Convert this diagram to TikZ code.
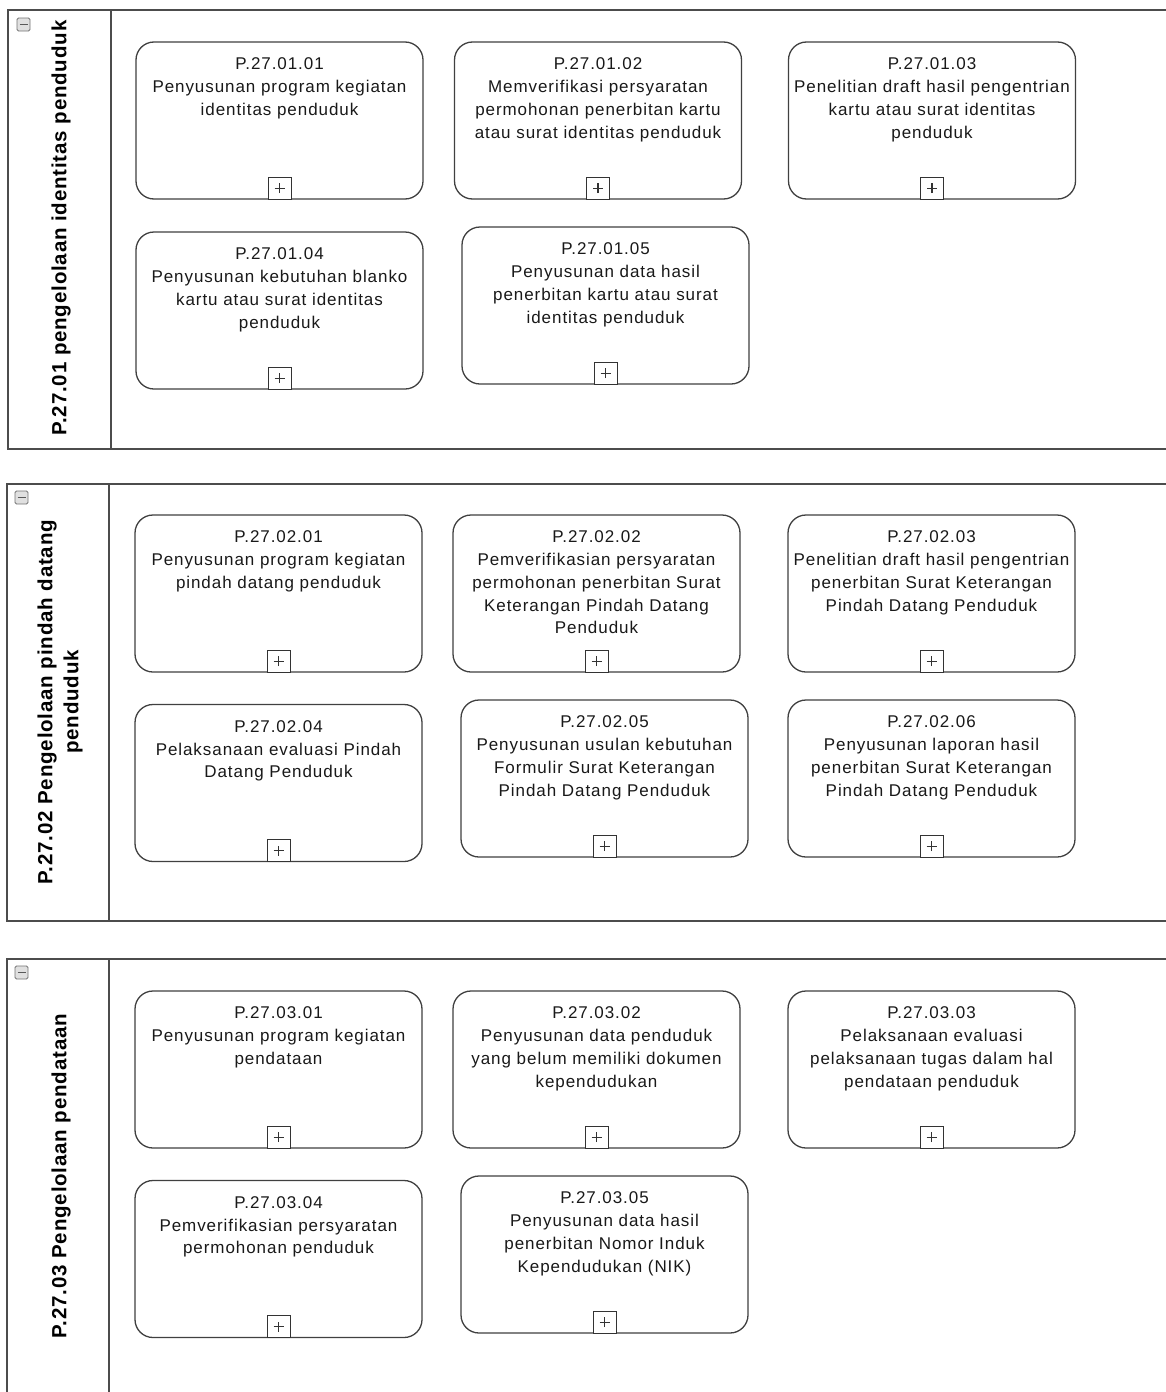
\documentclass[tikz,border=0pt]{standalone}
\usepackage{fontspec}
\setmainfont{Liberation Sans}
\newfontfamily\taskfont[LetterSpace=5.5]{Liberation Sans}
\newfontfamily\lanefont[LetterSpace=4]{Liberation Sans}
\begin{document}
\begin{tikzpicture}[x=1pt,y=-1pt,
  lane/.style={draw=black!70, line width=1.6pt},
  task/.style={draw=black!75, line width=1.3pt, rounded corners=18pt, minimum width=287pt, minimum height=157pt, inner sep=0pt},
  tasktext/.style={anchor=north, align=center, inner sep=0pt, font=\taskfont\fontsize{17}{22.7}\selectfont, text=black!90},
  plusbox/.style={draw=black!80, line width=1pt, minimum width=23pt, minimum height=22pt, inner sep=0pt, anchor=south, fill=white,
    path picture={\draw[line width=1.3pt] ([xshift=-5pt]path picture bounding box.center) -- ([xshift=5pt]path picture bounding box.center);
                  \draw[line width=1.3pt] ([yshift=-5pt]path picture bounding box.center) -- ([yshift=5pt]path picture bounding box.center);}},
  lanelabel/.style={rotate=90, align=center, font=\lanefont\fontsize{20.5}{26}\selectfont\bfseries, inner sep=0pt},
  collapse/.style={draw=black!55, fill=black!12, rounded corners=1.5pt, minimum width=13pt, minimum height=13pt, inner sep=0pt, line width=0.8pt,
    path picture={\draw[line width=1.6pt, black!65] ([xshift=-4pt]path picture bounding box.center) -- ([xshift=4pt]path picture bounding box.center);}}
]
\useasboundingbox (0,0) rectangle (1165,1392);
\fill[white] (0,0) rectangle (1165,1392);

% lanes
\draw[lane] (1166,10) -- (8,10) -- (8,449) -- (1166,449);
\draw[lane] (111,10) -- (111,449);
\draw[lane] (1166,484) -- (7,484) -- (7,921) -- (1166,921);
\draw[lane] (109,484) -- (109,921);
\draw[lane] (1166,959) -- (7,959) -- (7,1400);
\draw[lane] (109,959) -- (109,1400);

\node[collapse] (c1) at (23.5,24.5) {};
\node[collapse] (c2) at (21.5,497.5) {};
\node[collapse] (c3) at (21.5,972.5) {};

\node[lanelabel] (l1) at (61,228) {P.27.01 pengelolaan identitas penduduk};
\node[lanelabel] (l2) at (60,702) {P.27.02 Pengelolaan pindah datang\\penduduk};
\node[lanelabel] (l3) at (61,1176) {P.27.03 Pengelolaan pendataan};

\newcommand{\task}[4]{%
  \node[task] (#1) at (#2) {};
  \node[tasktext] (#1t) at ([yshift=-16.5pt]#1.north) {#3};
  \node[plusbox] (#1p) at (#1.south) {};
}

% lane 1
\task{a1}{279.5,120.5}{P.27.01.01\\Penyusunan program kegiatan\\identitas penduduk}{}
\task{a2}{598,120.5}{P.27.01.02\\Memverifikasi persyaratan\\permohonan penerbitan kartu\\atau surat identitas penduduk}{}
\task{a3}{932,120.5}{P.27.01.03\\Penelitian draft hasil pengentrian\\kartu atau surat identitas\\penduduk}{}
\task{a4}{279.5,310.5}{P.27.01.04\\Penyusunan kebutuhan blanko\\kartu atau surat identitas\\penduduk}{}
\task{a5}{605.5,305.5}{P.27.01.05\\Penyusunan data hasil\\penerbitan kartu atau surat\\identitas penduduk}{}

% lane 2
\task{b1}{278.5,593.5}{P.27.02.01\\Penyusunan program kegiatan\\pindah datang penduduk}{}
\task{b2}{596.5,593.5}{P.27.02.02\\Pemverifikasian persyaratan\\permohonan penerbitan Surat\\Keterangan Pindah Datang\\Penduduk}{}
\task{b3}{931.5,593.5}{P.27.02.03\\Penelitian draft hasil pengentrian\\penerbitan Surat Keterangan\\Pindah Datang Penduduk}{}
\task{b4}{278.5,783}{P.27.02.04\\Pelaksanaan evaluasi Pindah\\Datang Penduduk}{}
\task{b5}{604.5,778.5}{P.27.02.05\\Penyusunan usulan kebutuhan\\Formulir Surat Keterangan\\Pindah Datang Penduduk}{}
\task{b6}{931.5,778.5}{P.27.02.06\\Penyusunan laporan hasil\\penerbitan Surat Keterangan\\Pindah Datang Penduduk}{}

% lane 3
\task{c1t}{278.5,1069.5}{P.27.03.01\\Penyusunan program kegiatan\\pendataan}{}
\task{c2t}{596.5,1069.5}{P.27.03.02\\Penyusunan data penduduk\\yang belum memiliki dokumen\\kependudukan}{}
\task{c3t}{931.5,1069.5}{P.27.03.03\\Pelaksanaan evaluasi\\pelaksanaan tugas dalam hal\\pendataan penduduk}{}
\task{c4t}{278.5,1259}{P.27.03.04\\Pemverifikasian persyaratan\\permohonan penduduk}{}
\task{c5t}{604.5,1254.5}{P.27.03.05\\Penyusunan data hasil\\penerbitan Nomor Induk\\Kependudukan (NIK)}{}
\end{tikzpicture}
\end{document}
